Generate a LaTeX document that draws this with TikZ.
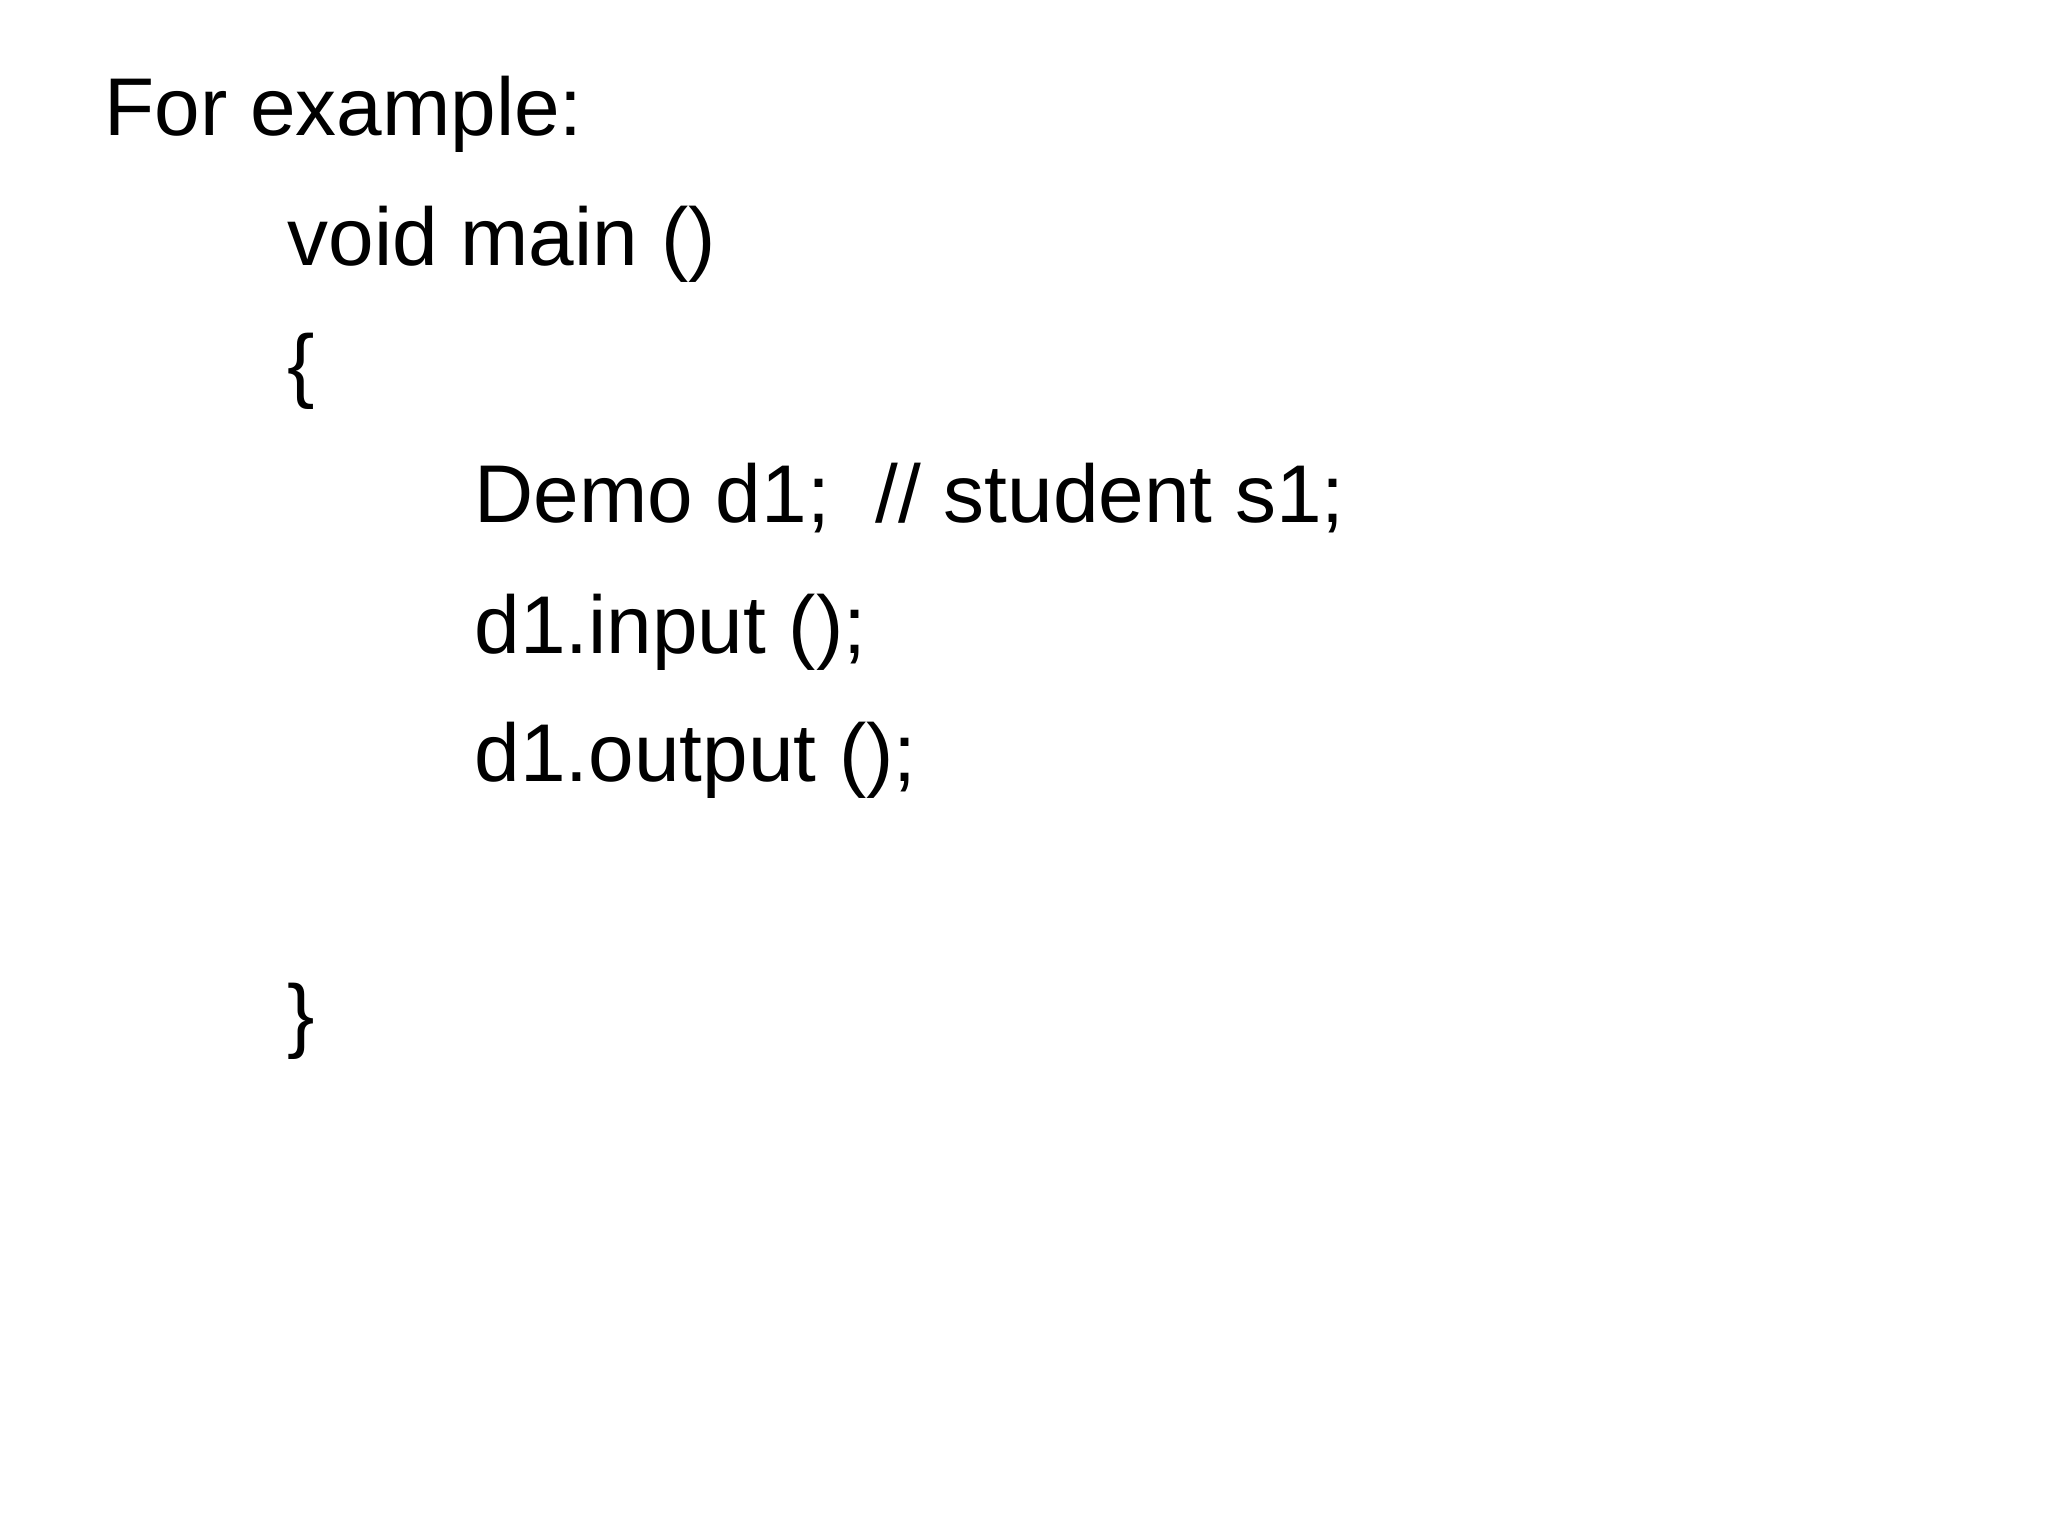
\documentclass[tikz,border=0pt]{standalone}
\usepackage{fontspec}
\setmainfont{Liberation Sans}
\begin{document}
\begin{tikzpicture}[x=0.01cm,y=-0.01cm,
    line/.style={anchor=base west, inner sep=0pt, font=\fontsize{23.3pt}{28pt}\selectfont}]
    \useasboundingbox (0,0) rectangle (2048,1536);
    \node[line] (title) at (104,135) {For example:};
    \node[line] (head) at (287,265) {void main ()};
    \node[line] (open) at (287,392) {\{};
    \node[line] (decl) at (474,522) {Demo d1;\ \ // student s1;};
    \node[line] (inp) at (474,653) {d1.input ();};
    \node[line] (outp) at (474,781) {d1.output ();};
    \node[line] (close) at (287,1042) {\}};
\end{tikzpicture}
\end{document}
